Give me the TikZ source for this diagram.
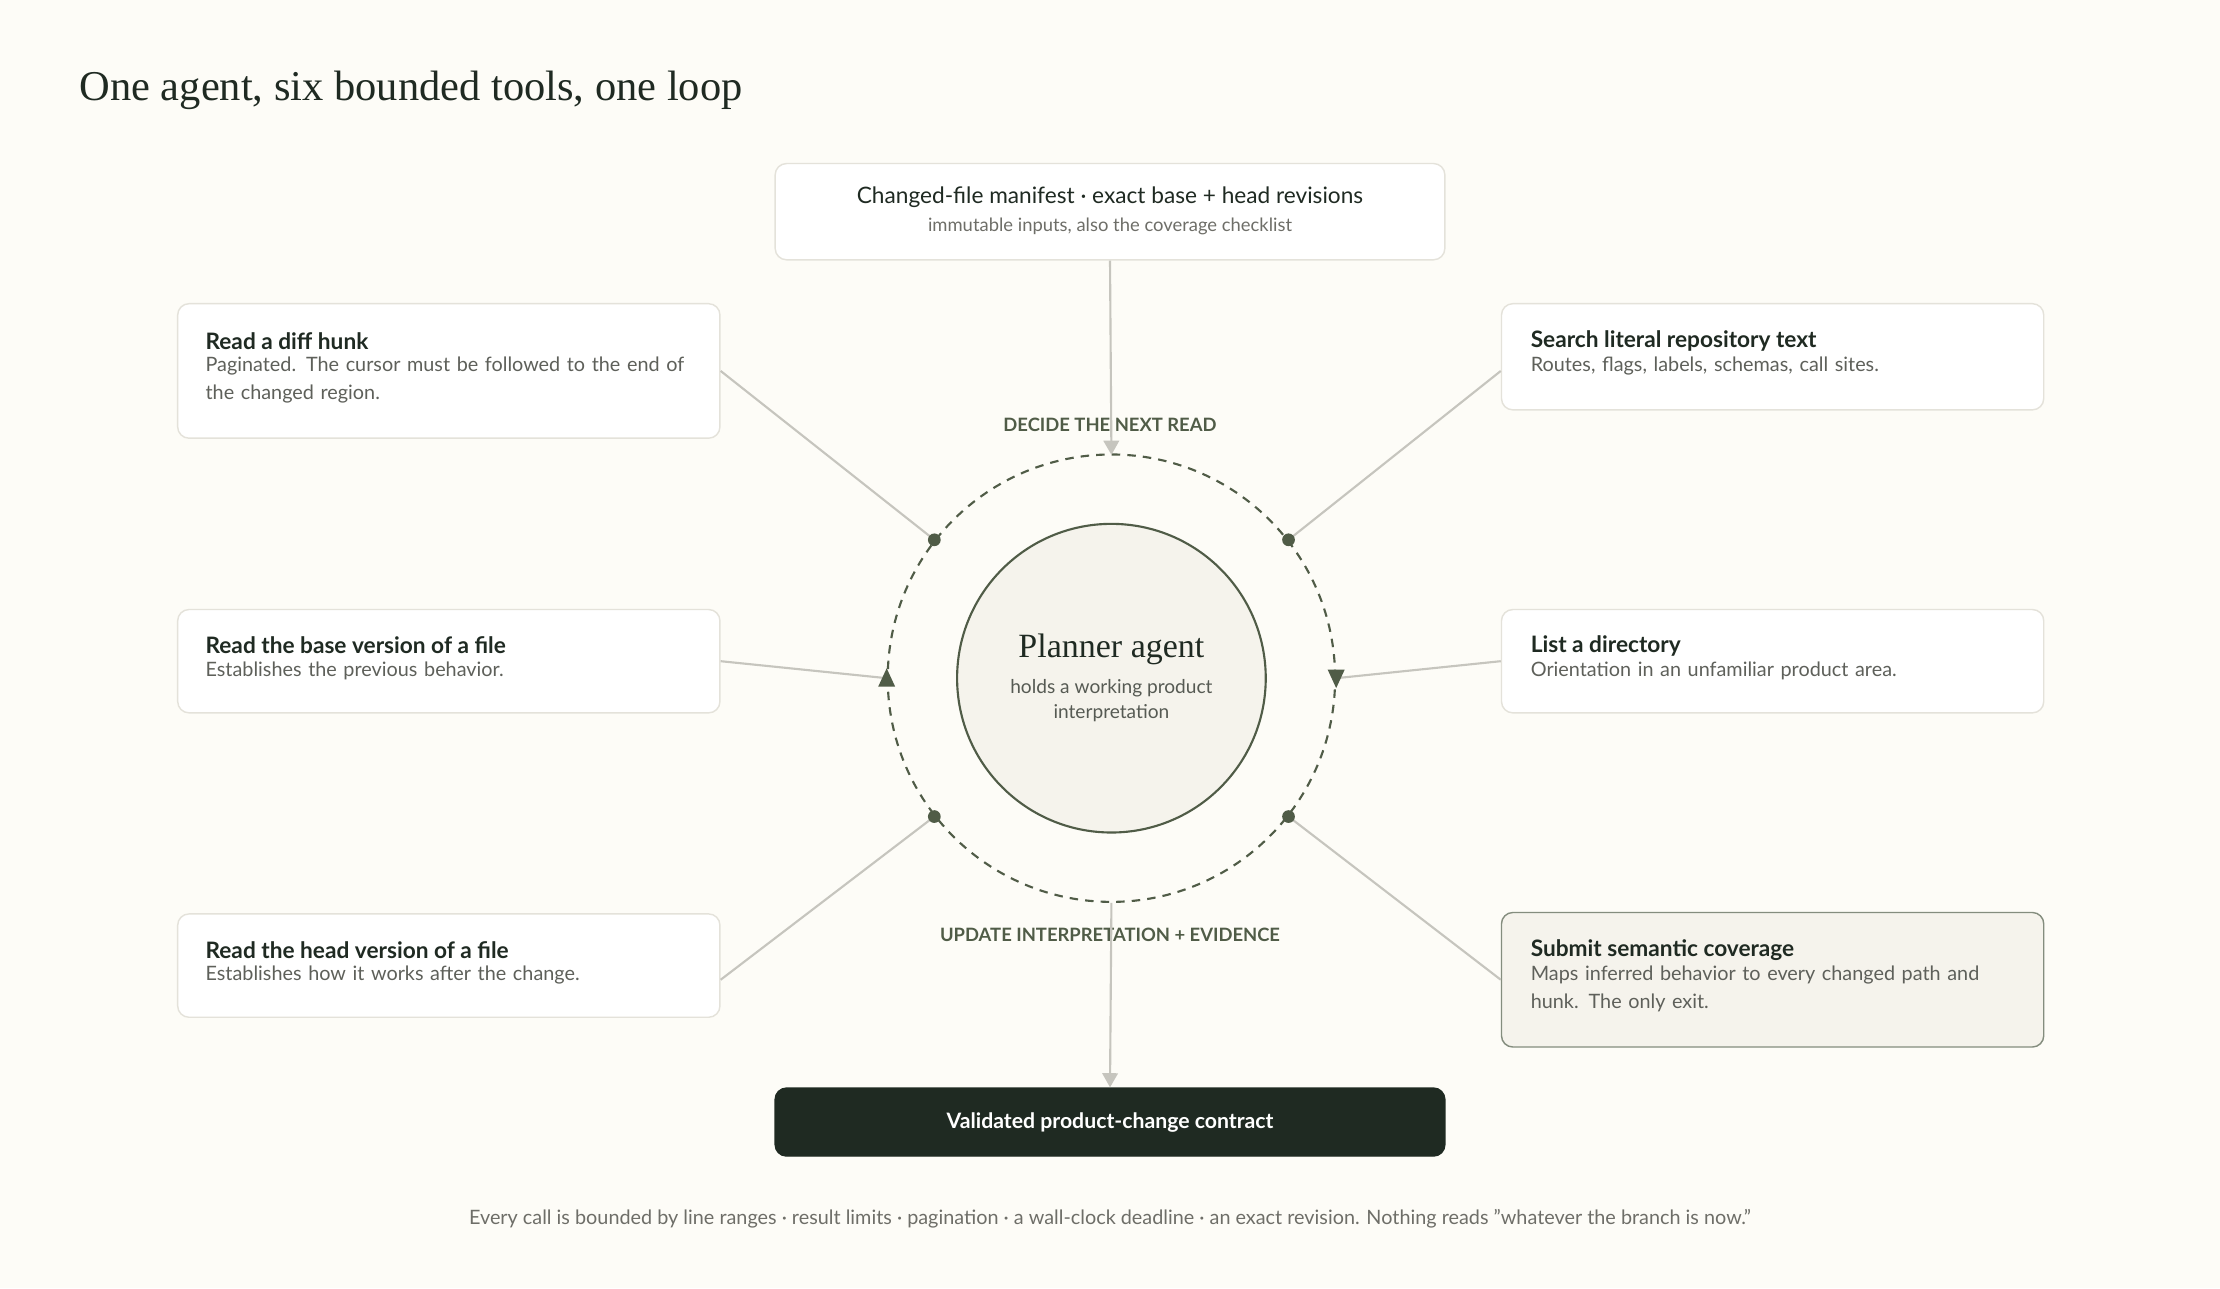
\documentclass[tikz,border=0pt]{standalone}
\usepackage{fontspec}
\setmainfont{Lato}
\newfontfamily\titlefont{Liberation Serif}
\usetikzlibrary{arrows.meta,calc}
\definecolor{bg}{HTML}{FDFCF7}
\definecolor{bordr}{HTML}{E4E2DA}
\definecolor{ink}{HTML}{1F2A22}
\definecolor{moss}{HTML}{505C47}
\definecolor{wire}{HTML}{C6C5BE}
\definecolor{mute}{HTML}{6E6E68}
\definecolor{cream}{HTML}{F5F3EC}
\begin{document}
\begin{tikzpicture}[x=1pt,y=-1pt,
  box/.style={draw=bordr,fill=white,rounded corners=8pt,line width=1pt,anchor=north west,minimum width=383pt,inner sep=0pt},
  head/.style={anchor=west,font=\fontsize{16}{19}\selectfont\bfseries,text=ink,inner sep=0pt},
  desc/.style={anchor=north west,font=\fontsize{14}{20}\selectfont,text=mute!80!ink,inner sep=0pt,text width=350pt,align=left},
  wireln/.style={draw=wire,line width=1.5pt},
  dot/.style={circle,fill=moss,inner sep=0pt,minimum size=9pt},
  lbl/.style={font=\fontsize{13}{15}\selectfont\bfseries,text=moss}]
\fill[bg] (0,0) rectangle (1568,910);
\useasboundingbox (0,0) rectangle (1568,910);
\node[anchor=west,inner sep=0pt,font=\titlefont\fontsize{30}{34}\selectfont,text=ink] (title) at (56,64) {One agent, six bounded tools, one loop};

% top box
\node[box,minimum width=473pt,minimum height=68pt] (top) at (547,115) {};
\node[inner sep=0pt,font=\fontsize{16}{19}\selectfont,text=ink] (topt) at (784,139) {Changed-file manifest · exact base + head revisions};
\node[inner sep=0pt,font=\fontsize{13}{15}\selectfont,text=mute] (tops) at (784,160) {immutable inputs, also the coverage checklist};

% left boxes
\node[box,minimum height=95pt] (l1) at (125,214) {};
\node[head] (l1h) at (145,241) {Read a diff hunk};
\node[desc] (l1d) at (145,252) {Paginated. The cursor must be followed to the end of the changed region.};
\node[box,minimum height=73pt] (l2) at (125,430) {};
\node[head] (l2h) at (145,456) {Read the base version of a file};
\node[desc] (l2d) at (145,467) {Establishes the previous behavior.};
\node[box,minimum height=73pt] (l3) at (125,645) {};
\node[head] (l3h) at (145,671) {Read the head version of a file};
\node[desc] (l3d) at (145,682) {Establishes how it works after the change.};

% right boxes
\node[box,minimum height=75pt] (r1) at (1060,214) {};
\node[head] (r1h) at (1081,241) {Search literal repository text};
\node[desc] (r1d) at (1081,252) {Routes, flags, labels, schemas, call sites.};
\node[box,minimum height=73pt] (r2) at (1060,430) {};
\node[head] (r2h) at (1081,456) {List a directory};
\node[desc] (r2d) at (1081,467) {Orientation in an unfamiliar product area.};
\node[box,minimum height=95pt,fill=cream,draw=moss!70] (r3) at (1060,644) {};
\node[head] (r3h) at (1081,671) {Submit semantic coverage};
\node[desc] (r3d) at (1081,682) {Maps inferred behavior to every changed path and hunk. The only exit.};

% bottom
\node[box,minimum width=473pt,minimum height=48pt,fill=ink,draw=ink] (out) at (547,768) {};
\node[inner sep=0pt,font=\fontsize{15}{18}\selectfont\bfseries,text=white] (outt) at (out.center) {Validated product-change contract};

% loop
\node[circle,draw=moss,dashed,dash pattern=on 6pt off 5pt,line width=1.5pt,minimum size=316pt,inner sep=0pt] (loop) at (785,479) {};
\node[circle,draw=moss,fill=cream,line width=1.5pt,minimum size=218pt,inner sep=0pt] (agent) at (785,479) {};
\node[inner sep=0pt,font=\titlefont\fontsize{24}{28}\selectfont,text=ink] (agt) at (785,459) {Planner agent};
\node[inner sep=0pt,font=\fontsize{13.5}{18}\selectfont,text=mute!70!ink,align=center] (ags) at (785,495) {holds a working product\\interpretation};

\node[lbl] (dec) at (784,300) {DECIDE THE NEXT READ};
\node[lbl] (upd) at (784,660) {UPDATE INTERPRETATION + EVIDENCE};

% connectors
\draw[wireln] (l1.east) -- (loop.142);
\draw[wireln] (r1.west |- l1.east) -- (loop.38);
\draw[wireln] (l2.east) -- (loop.180);
\draw[wireln] (r2.west) -- (loop.0);
\draw[wireln] (l3.east |- r3.west) -- (loop.218);
\draw[wireln] (r3.west) -- (loop.322);
\draw[wireln,-{Triangle[width=11pt,length=10pt]},shorten >=-1pt] (top.south) -- (loop.north);
\draw[wireln,-{Triangle[width=11pt,length=10pt]}] (loop.south) -- (out.north);

\foreach \a in {38,142,218,322} \node[dot] at (loop.\a) {};
\fill[moss] ($(loop.180)+(0,-7)$) -- ++(6,13) -- ++(-12,0) -- cycle;
\fill[moss] ($(loop.0)+(0,7)$) -- ++(6,-13) -- ++(-12,0) -- cycle;

\node[inner sep=0pt,font=\fontsize{14}{17}\selectfont,text=mute] (foot) at (784,861) {Every call is bounded by line ranges · result limits · pagination · a wall-clock deadline · an exact revision. Nothing reads "whatever the branch is now."};
\end{tikzpicture}
\end{document}
